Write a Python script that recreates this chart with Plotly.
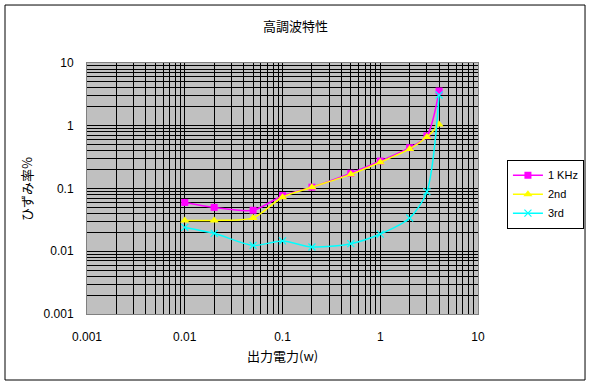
import plotly.graph_objects as go

power = [0.01, 0.02, 0.05, 0.1, 0.2, 0.5, 1, 2, 3, 4]
khz1 = [0.060, 0.050, 0.045, 0.077, 0.105, 0.175, 0.274, 0.447, 0.69, 3.58]
nd2 = [0.031, 0.031, 0.034, 0.0725, 0.1045, 0.168, 0.262, 0.427, 0.662, 1.05]
rd3 = [0.024, 0.0193, 0.0124, 0.0146, 0.0117, 0.0132, 0.0188, 0.0339, 0.089, 3.09]

decades = [0.001, 0.01, 0.1, 1, 10]
tick_text = ["0.001", "0.01", "0.1", "1", "10"]
minor_vals = [d * k for d in decades[:-1] for k in range(2, 10)]

fnt = "Liberation Sans, Arial, sans-serif"
jp = "Noto Sans CJK JP, sans-serif"

fig = go.Figure()
fig.add_trace(go.Scatter(x=power, y=khz1, name="1 KHz", mode="lines+markers",
                         line=dict(color="#FF00FF", width=1.5, shape="spline", smoothing=0.8),
                         marker=dict(symbol="square", size=7, color="#FF00FF")))
fig.add_trace(go.Scatter(x=power, y=nd2, name="2nd", mode="lines+markers",
                         line=dict(color="#FFFF00", width=1.5, shape="spline", smoothing=0.8),
                         marker=dict(symbol="triangle-up", size=8, color="#FFFF00")))
fig.add_trace(go.Scatter(x=power, y=rd3, name="3rd", mode="lines+markers",
                         line=dict(color="#00FFFF", width=1.5, shape="spline", smoothing=0.8),
                         marker=dict(symbol="x-thin-open", size=7, color="#00FFFF",
                                     line=dict(color="#00FFFF", width=1.2))))

axis_common = dict(
    type="log", showgrid=True, gridcolor="black", gridwidth=1,
    tickvals=decades, ticktext=tick_text,
    minor=dict(tickvals=minor_vals, showgrid=True, gridcolor="black", gridwidth=1),
    showline=True, linecolor="#808080", linewidth=1, mirror=True,
    ticks="", zeroline=False,
    tickfont=dict(family=fnt, size=12, color="black"),
)
fig.update_xaxes(**axis_common, range=[-3, 1], ticklabelstandoff=12)
fig.update_yaxes(**axis_common, range=[-3, 1], ticklabelstandoff=10)

fig.update_layout(
    width=592, height=385,
    margin=dict(l=87, r=114, t=63, b=71, autoexpand=False),
    plot_bgcolor="#C0C0C0", paper_bgcolor="white",
    showlegend=True,
    legend=dict(x=1.074, y=0.615, xanchor="left", yanchor="top",
                bgcolor="white", bordercolor="black", borderwidth=1,
                font=dict(family=fnt, size=11, color="black"),
                itemwidth=30, tracegroupgap=0),
    annotations=[
        dict(text="高調波特性", x=0.532, y=1.151, xref="paper", yref="paper",
             showarrow=False, font=dict(family=jp, size=13, color="black"),
             xanchor="center", yanchor="middle"),
        dict(text="出力電力(w)", x=0.5, y=-0.165, xref="paper", yref="paper",
             showarrow=False, font=dict(family=jp, size=13, color="black"),
             xanchor="center", yanchor="middle"),
        dict(text="ひずみ率%", x=-0.155, y=0.5, xref="paper", yref="paper",
             showarrow=False, textangle=-90, font=dict(family=jp, size=13, color="black"),
             xanchor="center", yanchor="middle"),
    ],
    shapes=[
        dict(type="rect", xref="paper", yref="paper",
             x0=-0.2097, x1=1.2737, y0=-0.263, y1=1.231,
             line=dict(color="black", width=1), fillcolor="rgba(0,0,0,0)", layer="below"),
    ],
)

fig.write_html("out.html")
